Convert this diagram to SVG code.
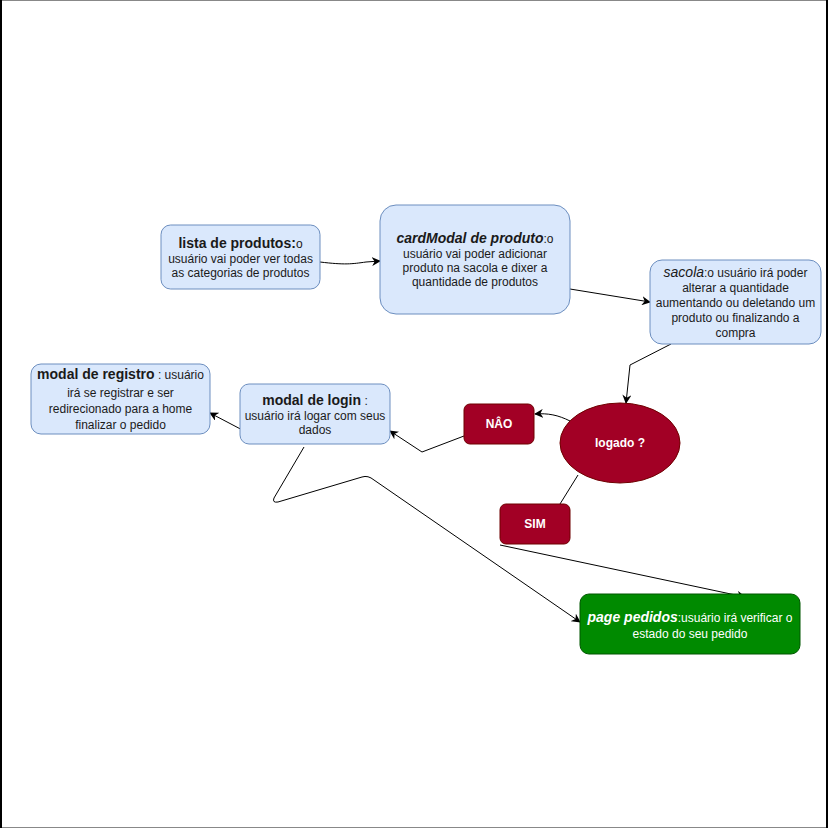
<svg xmlns="http://www.w3.org/2000/svg" width="828" height="828" viewBox="0 0 828 828">
  <style>
    text { font-family: "Liberation Sans", Arial, Helvetica, sans-serif; font-size: 12px; text-anchor: middle; }
    .blue { fill: #dae8fc; stroke: #6c8ebf; stroke-width: 1; }
    .red { fill: #a20025; stroke: #6f0000; stroke-width: 1; }
    .green { fill: #008a00; stroke: #005700; stroke-width: 1; }
    .dark { fill: #1a1a1a; }
    .light { fill: #ffffff; }
    .b { font-weight: bold; font-size: 14px; }
    .bi { font-weight: bold; font-style: italic; font-size: 14px; }
    .i { font-style: italic; font-size: 14px; }
    .edge { fill: none; stroke: #000000; stroke-width: 1; }
  </style>
  <defs>
    <marker id="arrow" viewBox="0 0 10 10" refX="9" refY="5" markerWidth="9" markerHeight="9" markerUnits="userSpaceOnUse" orient="auto">
      <path d="M0,0 L10,5 L0,10 L3,5 Z" fill="#000000"/>
    </marker>
  </defs>

  <rect x="0" y="0" width="828" height="828" fill="#ffffff"/>
  <!-- page frame -->
  <line x1="0" y1="0.5" x2="828" y2="0.5" stroke="#888888" stroke-width="1"/>
  <line x1="0" y1="827.5" x2="828" y2="827.5" stroke="#888888" stroke-width="1"/>
  <line x1="1" y1="0" x2="1" y2="828" stroke="#000000" stroke-width="2"/>
  <line x1="827" y1="0" x2="827" y2="828" stroke="#000000" stroke-width="2"/>

  <g id="connectors">
    <path class="edge" d="M320,262 C345,265 352,264 366,262 L380,261" marker-end="url(#arrow)"/>
    <path class="edge" d="M570,289 L650,302" marker-end="url(#arrow)"/>
    <path class="edge" d="M671,344 L630,365 L626,403" marker-end="url(#arrow)"/>
    <path class="edge" d="M570,421 C558,415 548,413 535,414" marker-end="url(#arrow)"/>
    <path class="edge" d="M464,436 L422,452 L390,431" marker-end="url(#arrow)"/>
    <path class="edge" d="M250,434 L210,413" marker-end="url(#arrow)"/>
    <path class="edge" d="M304,447 L274,498 Q272,503 278,502 L362,477 Q368,475 374,480 L580,622" marker-end="url(#arrow)"/>
    <path class="edge" d="M578,475 L560,504"/>
    <path class="edge" d="M500,545 L745,597" marker-end="url(#arrow)"/>
  </g>

  <g id="lista-produtos">
    <rect class="blue" x="161" y="225" width="159" height="64" rx="9.6"/>
    <text x="240.5" y="248" class="dark"><tspan class="b">lista de produtos:</tspan>o</text>
    <text x="240.5" y="263" class="dark">usuário vai poder ver todas</text>
    <text x="240.5" y="277" class="dark">as categorias de produtos</text>
  </g>

  <g id="card-modal">
    <rect class="blue" x="380" y="205" width="190" height="109" rx="16"/>
    <text x="475" y="243" class="dark"><tspan class="bi">cardModal de produto</tspan>:o</text>
    <text x="475" y="258" class="dark">usuário vai poder adicionar</text>
    <text x="475" y="272" class="dark">produto na sacola e dixer a</text>
    <text x="475" y="286" class="dark">quantidade de produtos</text>
  </g>

  <g id="sacola">
    <rect class="blue" x="650" y="260" width="171" height="84" rx="12"/>
    <text x="735.5" y="277" class="dark"><tspan class="i">sacola</tspan>:o usuário irá poder</text>
    <text x="735.5" y="292" class="dark">alterar a quantidade</text>
    <text x="735.5" y="307" class="dark">aumentando ou deletando um</text>
    <text x="735.5" y="322" class="dark">produto ou finalizando a</text>
    <text x="735.5" y="337" class="dark">compra</text>
  </g>

  <g id="modal-registro">
    <rect class="blue" x="31" y="364" width="179" height="70" rx="10"/>
    <text x="120.5" y="379" class="dark"><tspan class="b">modal de registro</tspan> : usuário</text>
    <text x="120.5" y="397" class="dark">irá se registrar e ser</text>
    <text x="120.5" y="413" class="dark">redirecionado para a home</text>
    <text x="120.5" y="429" class="dark">finalizar o pedido</text>
  </g>

  <g id="modal-login">
    <rect class="blue" x="240" y="384" width="150" height="60" rx="9"/>
    <text x="315" y="405" class="dark"><tspan class="b">modal de login</tspan> :</text>
    <text x="315" y="420" class="dark">usuário irá logar com seus</text>
    <text x="315" y="434" class="dark">dados</text>
  </g>

  <g id="nao">
    <rect class="red" x="464" y="404" width="70" height="40" rx="6"/>
    <text x="499" y="428" class="light" font-weight="bold">NÂO</text>
  </g>

  <g id="logado">
    <ellipse class="red" cx="620" cy="443" rx="60" ry="40"/>
    <text x="620" y="447" class="light" font-weight="bold">logado ?</text>
  </g>

  <g id="sim">
    <rect class="red" x="500" y="504" width="70" height="40" rx="6"/>
    <text x="535" y="528" class="light" font-weight="bold">SIM</text>
  </g>

  <g id="page-pedidos">
    <rect class="green" x="580" y="594" width="220" height="60" rx="9"/>
    <text x="690" y="622" class="light"><tspan class="bi">page pedidos</tspan>:usuário irá verificar o</text>
    <text x="690" y="638" class="light">estado do seu pedido</text>
  </g>
</svg>
